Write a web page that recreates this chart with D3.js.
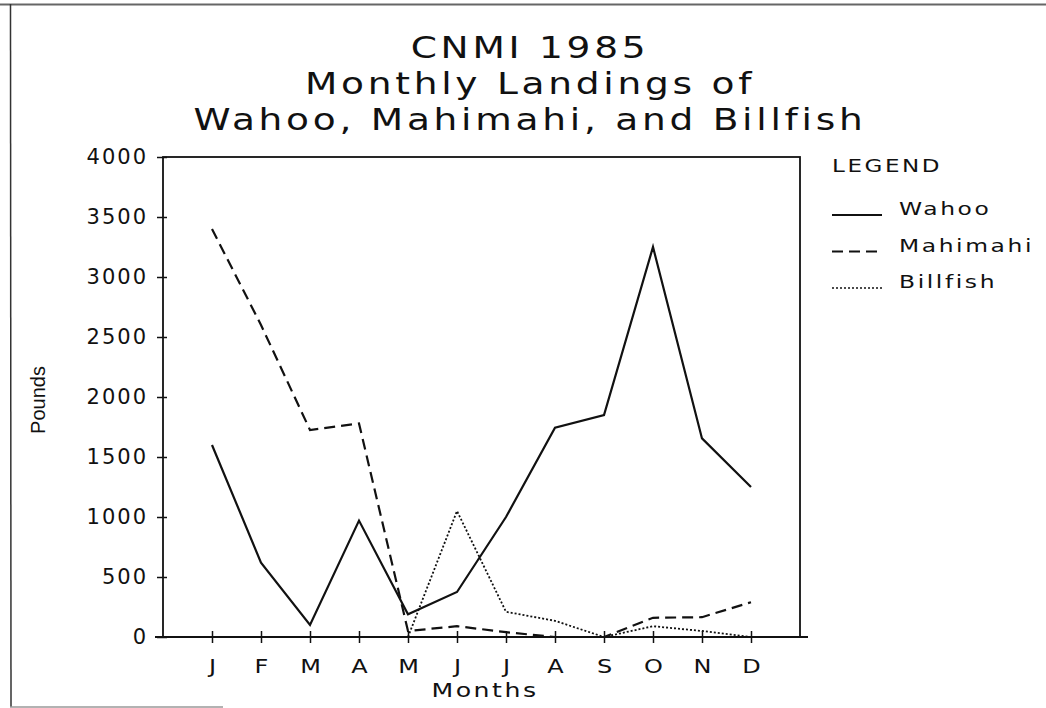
<!DOCTYPE html>
<html>
<head>
<meta charset="utf-8">
<script src="https://d3js.org/d3.v7.min.js"></script>
<style>
body { margin: 0; background: #fff; }
text { font-family: 'DejaVu Sans', sans-serif; fill: #111; }
</style>
</head>
<body>
<svg id="chart" width="1046" height="708"></svg>
<script>
// data (pounds)
var months = ['Jan','Feb','Mar','Apr','May','Jun','Jul','Aug','Sep','Oct','Nov','Dec'];
var monthLabels = ['J','F','M','A','M','J','J','A','S','O','N','D'];
var wahoo    = [1600, 620, 100, 970, 190, 375, 1000, 1745, 1850, 3250, 1655, 1250];
var mahimahi = [3400, 2600, 1725, 1780, 50, 90, 40, 0, 0, 160, 165, 290];
var billfish = [0, 0, 0, 0, 0, 1050, 210, 135, 0, 90, 50, 0];
var yTicks = [0, 500, 1000, 1500, 2000, 2500, 3000, 3500, 4000];
var titleLines = ['CNMI 1985', 'Monthly Landings of', 'Wahoo, Mahimahi, and Billfish'];

var series = [
  {name: 'Wahoo', values: wahoo, dash: null, width: 2.2},
  {name: 'Mahimahi', values: mahimahi, dash: '11,6', width: 2.2},
  {name: 'Billfish', values: billfish, dash: '2,2', width: 1.8}
];

var svg = d3.select('#chart');
var pLeft = 163, pRight = 800, pTop = 157, pBottom = 637;

var x = d3.scalePoint().domain(months).range([pLeft, pRight]).padding(1);
var y = d3.scaleLinear().domain([0, 4000]).range([pBottom, pTop]);

// wide plotter-style lettering: stretch the text horizontally
function wideText(parent, tx, ty, sx, str, size, anchor) {
  return parent.append('g')
    .attr('transform', 'translate(' + tx + ',' + ty + ') scale(' + sx + ',1)')
    .append('text')
      .attr('text-anchor', anchor || 'start')
      .style('font-size', size + 'px')
      .style('letter-spacing', '2px')
      .text(str);
}

// scanned page frame
svg.append('line').attr('x1', 0).attr('y1', 4.5).attr('x2', 1046).attr('y2', 4.5)
  .style('stroke', '#666').style('stroke-width', 2);
svg.append('line').attr('x1', 10.5).attr('y1', 4).attr('x2', 11).attr('y2', 707)
  .style('stroke', '#333').style('stroke-width', 1.5);
svg.append('line').attr('x1', 10).attr('y1', 707).attr('x2', 223).attr('y2', 707)
  .style('stroke', '#999').style('stroke-width', 1.5);

// title
titleLines.forEach(function(t, i) {
  wideText(svg, 530, 58 + i * 36, 1.25, t, 30, 'middle').style('letter-spacing', '3px');
});

// plot box
svg.append('rect')
  .attr('x', pLeft).attr('y', pTop)
  .attr('width', pRight - pLeft).attr('height', pBottom - pTop)
  .style('fill', 'none').style('stroke', '#111').style('stroke-width', 1.8);

// y axis
var yAxis = svg.append('g')
  .attr('transform', 'translate(' + pLeft + ',0)')
  .call(d3.axisLeft(y).tickValues(yTicks).tickSize(6).tickFormat(d3.format('d')));
yAxis.select('.domain').remove();
yAxis.selectAll('.tick line').attr('x2', -6).attr('x1', 4).style('stroke', '#111').style('stroke-width', 1.5);
yAxis.selectAll('.tick text')
  .attr('x', -15)
  .style('font-family', "'DejaVu Sans', sans-serif")
  .style('font-size', '21px')
  .style('letter-spacing', '2px')
  .style('fill', '#111');

// x axis
var xAxis = svg.append('g')
  .attr('transform', 'translate(0,' + pBottom + ')')
  .call(d3.axisBottom(x).tickSize(0).tickFormat(function(d, i) { return monthLabels[i]; }));
xAxis.select('.domain').remove();
xAxis.selectAll('.tick line').attr('y1', -6).attr('y2', 6).style('stroke', '#111').style('stroke-width', 1.5);
xAxis.selectAll('.tick text')
  .attr('y', 22)
  .attr('transform', 'scale(1.2,1)')
  .style('font-family', "'DejaVu Sans', sans-serif")
  .style('font-size', '20px')
  .style('fill', '#111');
svg.append('line').attr('x1', 155).attr('y1', pBottom).attr('x2', 808).attr('y2', pBottom)
  .style('stroke', '#111').style('stroke-width', 1.8);

// axis titles
wideText(svg, 485, 697, 1.26, 'Months', 20, 'middle');
svg.append('text')
  .attr('transform', 'translate(45,400) rotate(-90)')
  .attr('text-anchor', 'middle')
  .style('font-family', "'Liberation Sans', sans-serif")
  .style('font-size', '20px')
  .text('Pounds');

// lines
var line = d3.line()
  .x(function(d, i) { return x(months[i]); })
  .y(function(d) { return y(d); });

svg.append('g').selectAll('path')
  .data(series)
  .enter()
  .append('path')
    .attr('d', function(d) { return line(d.values); })
    .style('fill', 'none')
    .style('stroke', '#111')
    .style('stroke-width', function(d) { return d.width; })
    .style('stroke-dasharray', function(d) { return d.dash; })
    .style('stroke-linejoin', 'miter');

// legend
wideText(svg, 832, 172, 1.28, 'LEGEND', 18);

var leg = svg.append('g').selectAll('g')
  .data(series)
  .enter()
  .append('g')
    .attr('transform', function(d, i) { return 'translate(832,' + (215 + i * 36.5) + ')'; });
leg.append('line')
  .attr('x1', 0).attr('x2', 50).attr('y1', 0).attr('y2', 0)
  .style('stroke', '#111')
  .style('stroke-width', function(d) { return d.width * 0.8; })
  .style('stroke-dasharray', function(d) { return d.dash; });
leg.each(function(d) {
  wideText(d3.select(this), 67, 0, 1.3, d.name, 18);
});
</script>
</body>
</html>
